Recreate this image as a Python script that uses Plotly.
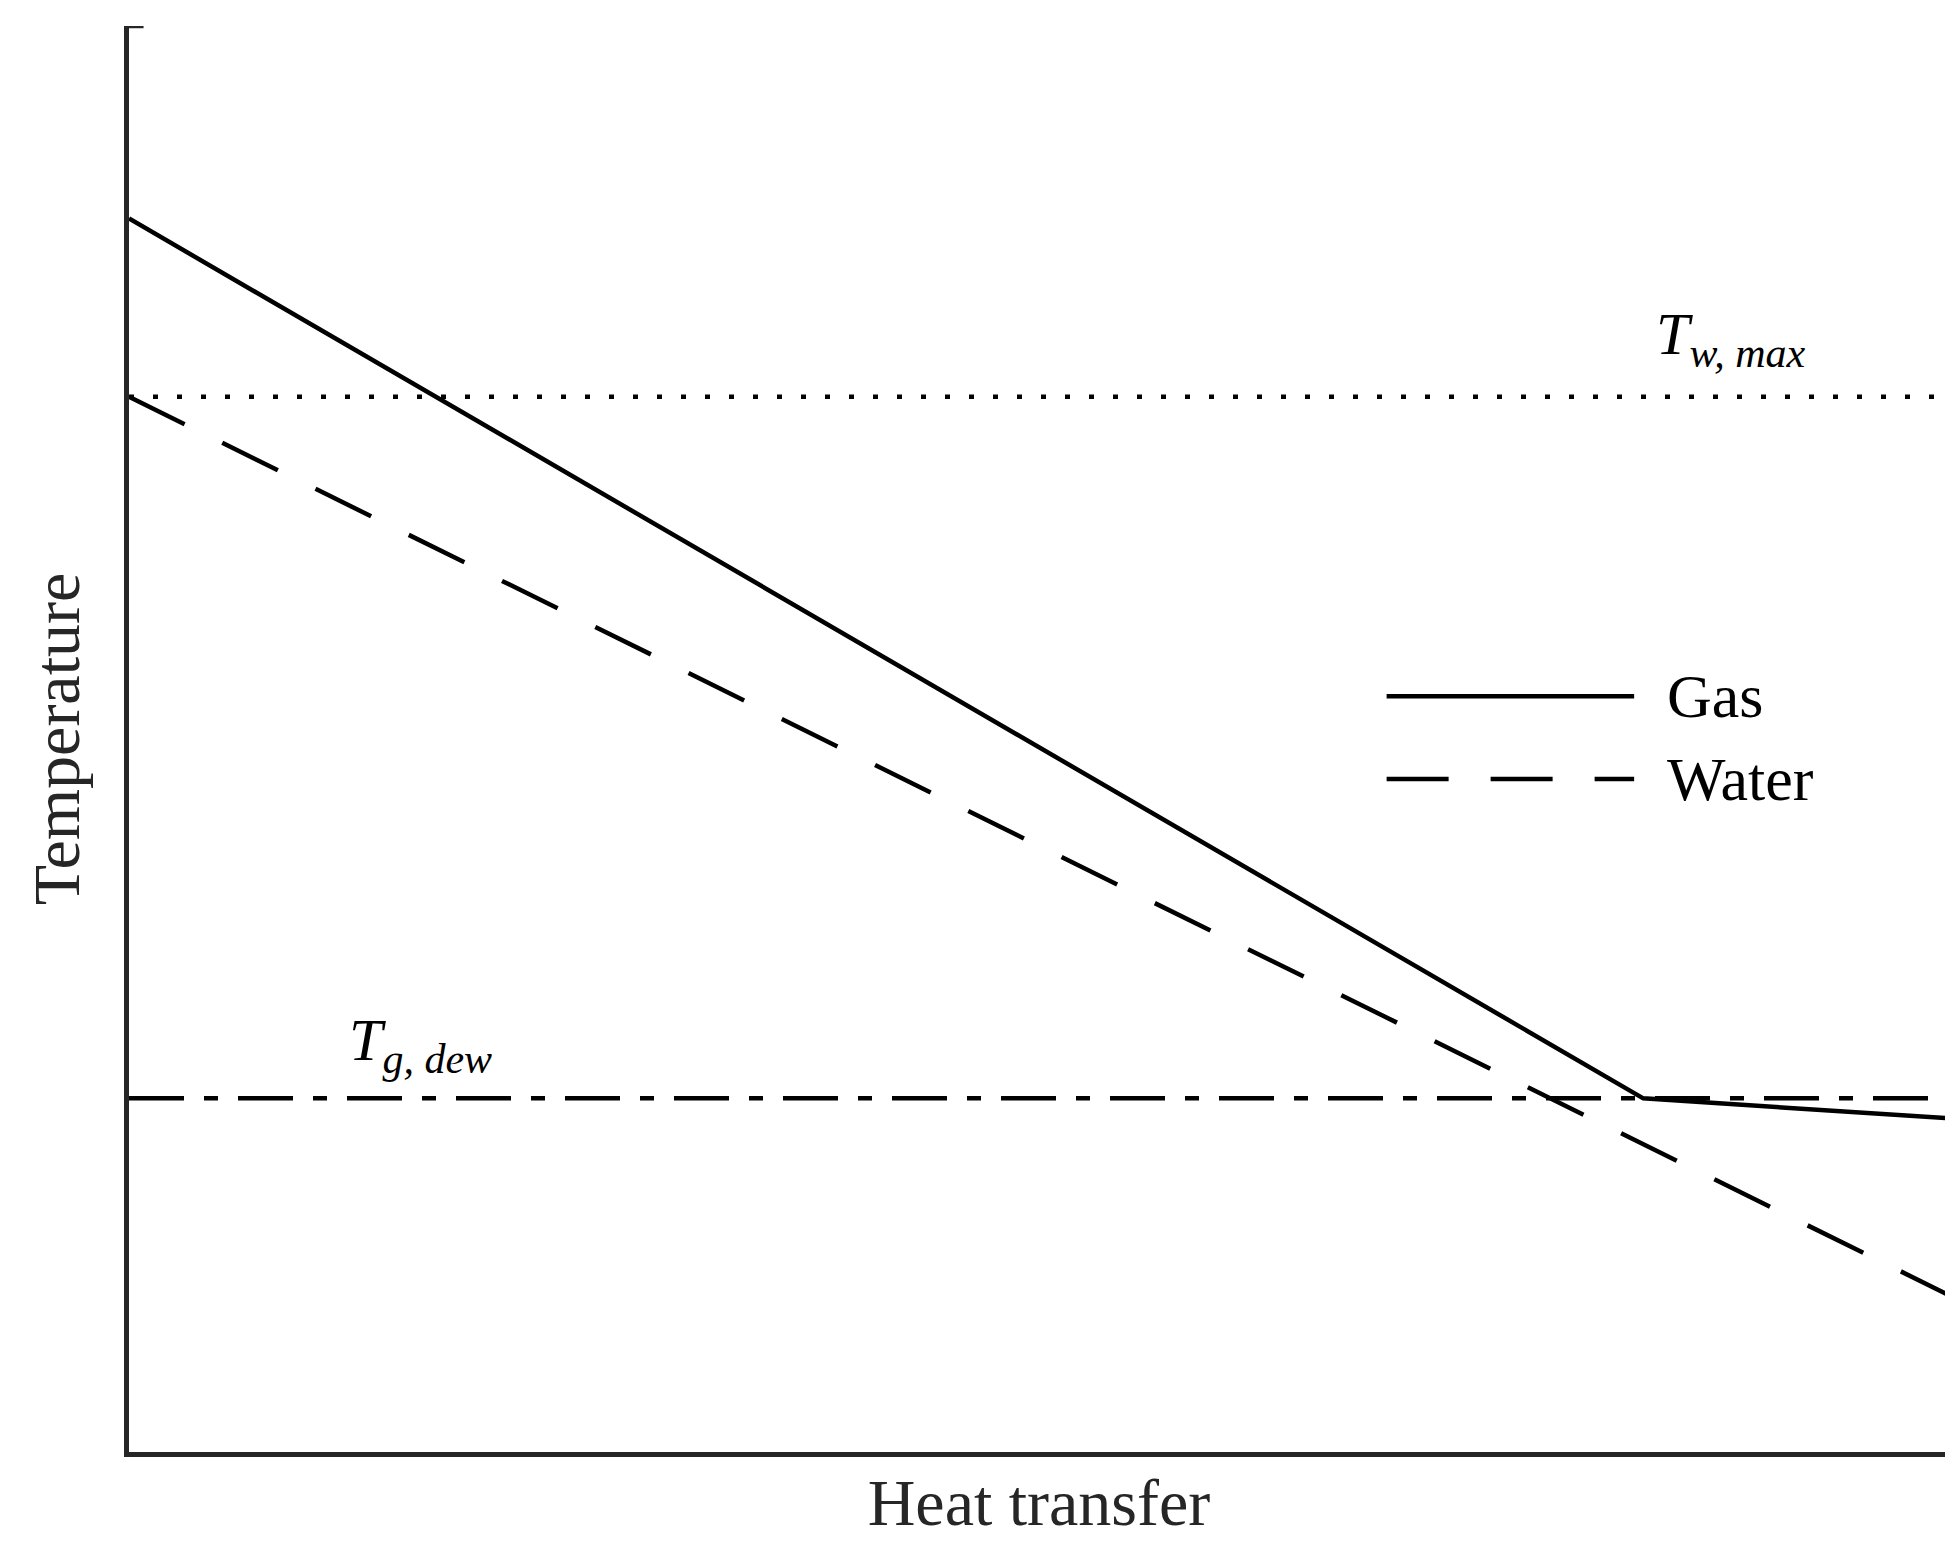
import plotly.graph_objects as go

# arbitrary units (schematic chart)
gas_x = [0, 83.2, 100]
gas_y = [86.5, 24.8, 23.4]
water_x = [0, 100]
water_y = [74.0, 11.0]
t_w_max = 74.0
t_g_dew = 24.8

font = "Liberation Serif"
lw = 4.5
water_dash = "62px,42px"
fig = go.Figure()
fig.add_trace(go.Scatter(x=gas_x, y=gas_y, mode="lines", line=dict(color="black", width=lw)))
fig.add_trace(go.Scatter(x=water_x, y=water_y, mode="lines",
                         line=dict(color="black", width=lw, dash=water_dash)))
fig.add_trace(go.Scatter(x=[0, 100], y=[t_w_max] * 2, mode="lines",
                         line=dict(color="black", width=lw, dash="5px,19px")))
fig.add_trace(go.Scatter(x=[0, 100], y=[t_g_dew] * 2, mode="lines",
                         line=dict(color="black", width=lw, dash="55px,20px,14px,20px")))

fig.add_annotation(x=88, y=t_w_max + 1.3, text="<i>T</i><sub><i>w, max</i></sub>", showarrow=False,
                   xanchor="center", yanchor="bottom", font=dict(family=font, size=60, color="black"))
fig.add_annotation(x=16, y=t_g_dew + 1.0, text="<i>T</i><sub><i>g, dew</i></sub>", showarrow=False,
                   xanchor="center", yanchor="bottom", font=dict(family=font, size=60, color="black"))

# legend drawn by hand
fig.add_shape(type="line", xref="x", yref="y", x0=69.1, x1=82.7, y0=53.0, y1=53.0,
              line=dict(color="black", width=lw))
fig.add_shape(type="line", xref="x", yref="y", x0=69.1, x1=82.7, y0=47.2, y1=47.2,
              line=dict(color="black", width=lw, dash=water_dash))
fig.add_annotation(x=84.4, y=53.0, text="Gas", showarrow=False, xanchor="left",
                   font=dict(family=font, size=62, color="black"))
fig.add_annotation(x=84.4, y=47.2, text="Water", showarrow=False, xanchor="left",
                   font=dict(family=font, size=62, color="black"))

# end ticks of the axes
fig.add_shape(type="line", xref="x", yref="y", x0=0, x1=0.8, y0=100, y1=100,
              line=dict(color="#262626", width=lw))
fig.add_shape(type="line", xref="x", yref="y", x0=100, x1=100, y0=0, y1=1.0,
              line=dict(color="#262626", width=lw))

axis = dict(showline=True, linecolor="#262626", linewidth=lw, showgrid=False, zeroline=False,
            ticks="", showticklabels=False, range=[0, 100])
fig.update_xaxes(**axis, title=dict(text="Heat transfer", font=dict(family=font, size=66, color="#262626"), standoff=25))
fig.update_yaxes(**axis, title=dict(text="Temperature", font=dict(family=font, size=66, color="#262626"), standoff=25))
fig.update_layout(width=1953, height=1547, showlegend=False, plot_bgcolor="white", paper_bgcolor="white",
                  margin=dict(l=121, r=12, t=18, b=103))
fig.write_html("out.html")
